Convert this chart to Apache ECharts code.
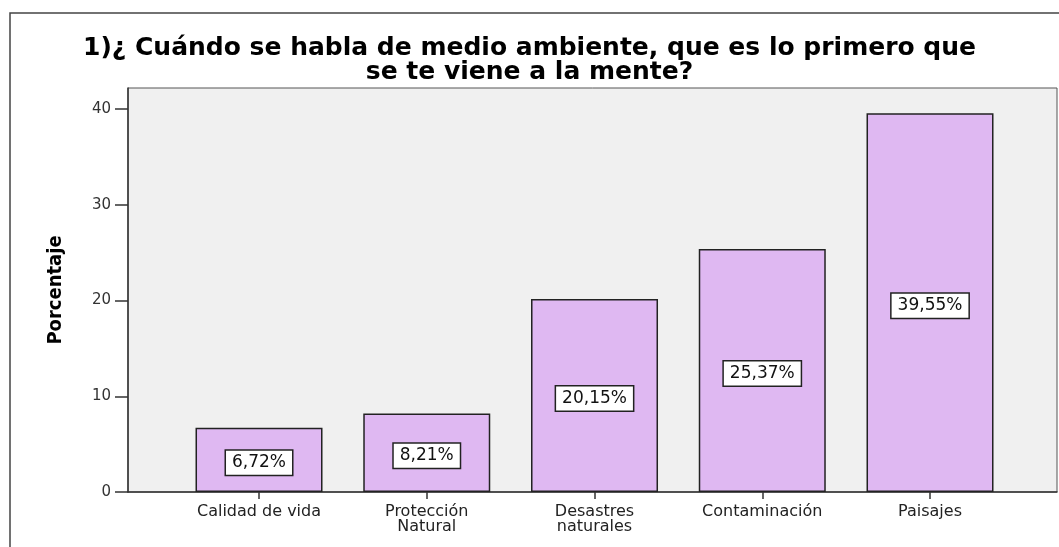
<!DOCTYPE html>
<html>
<head>
<meta charset="utf-8">
<script src="https://cdn.jsdelivr.net/npm/echarts@6/dist/echarts.min.js"></script>
<style>
  html, body { margin: 0; padding: 0; background: #fff; }
  #chart { width: 1059px; height: 547px; }
</style>
</head>
<body>
<div id="chart"></div>
<script>
// chart data
const categories = ['Calidad de vida', 'Protección\nNatural', 'Desastres\nnaturales', 'Contaminación', 'Paisajes'];
const percentages = [6.72, 8.21, 20.15, 25.37, 39.55];
const yTicks = [0, 10, 20, 30, 40];

const chart = echarts.init(document.getElementById('chart'));

// the SPSS picture is stretched sideways, DejaVu is the widest font we have
const font = '"DejaVu Sans", Verdana, sans-serif';

const option = {
  animation: false,
  backgroundColor: '#fff',
  graphic: [
    {
      // outer frame of the SPSS output
      type: 'rect',
      shape: { x: 10, y: 13, width: 1060, height: 560 },
      style: { fill: 'none', stroke: '#444', lineWidth: 1.5 },
      z: -1
    }
  ],
  title: {
    text: '1)¿ Cuándo se habla de medio ambiente, que es lo primero que\nse te viene a la mente?',
    left: 'center',
    top: 31,
    textStyle: {
      fontFamily: font,
      fontSize: 25,
      fontWeight: 'bold',
      color: '#000',
      lineHeight: 24
    }
  },
  grid: {
    left: 128,
    right: 2,
    top: 88,
    bottom: 55,
    show: true,
    backgroundColor: '#f0f0f0',
    borderColor: '#555',
    borderWidth: 1
  },
  xAxis: {
    type: 'value',
    min: -0.781,
    max: 4.757,
    splitLine: { show: false },
    axisLine: { show: true, onZero: false, lineStyle: { color: '#333', width: 1.5 } },
    axisTick: {
      show: true,
      customValues: [0, 1, 2, 3, 4],
      length: 7,
      lineStyle: { color: '#333', width: 1.5 }
    },
    axisLabel: {
      customValues: [0, 1, 2, 3, 4],
      formatter: v => categories[Math.round(v)],
      fontFamily: font,
      fontSize: 16,
      color: '#222',
      lineHeight: 15,
      margin: 12,
      verticalAlign: 'top'
    }
  },
  yAxis: {
    type: 'value',
    min: 0,
    max: 42.2,
    interval: 10,
    name: 'Porcentaje',
    nameLocation: 'middle',
    nameGap: 62,
    nameTextStyle: {
      fontFamily: '"Liberation Sans Narrow", "DejaVu Sans Condensed", sans-serif',
      fontSize: 20,
      fontWeight: 'bold',
      color: '#000'
    },
    splitLine: { show: false },
    axisLine: { show: true, onZero: false, lineStyle: { color: '#333', width: 1.5 } },
    axisTick: {
      show: true,
      customValues: yTicks,
      length: 13,
      lineStyle: { color: '#333', width: 1.5 }
    },
    axisLabel: {
      customValues: yTicks,
      fontFamily: font,
      fontSize: 15,
      color: '#333',
      margin: 17
    }
  },
  series: [
    {
      type: 'bar',
      data: percentages.map((v, i) => [i, v]),
      barWidth: 127,
      itemStyle: {
        color: '#dfb8f2',
        borderColor: '#222',
        borderWidth: 1.5
      },
      label: {
        show: true,
        position: 'inside',
        offset: [0, 3],
        formatter: p => p.value[1].toFixed(2).replace('.', ',') + '%',
        fontFamily: font,
        fontSize: 17,
        color: '#111',
        backgroundColor: '#fff',
        borderColor: '#222',
        borderWidth: 1.5,
        padding: [4, 6, 3, 6]
      }
    }
  ]
};

chart.setOption(option);
</script>
</body>
</html>
